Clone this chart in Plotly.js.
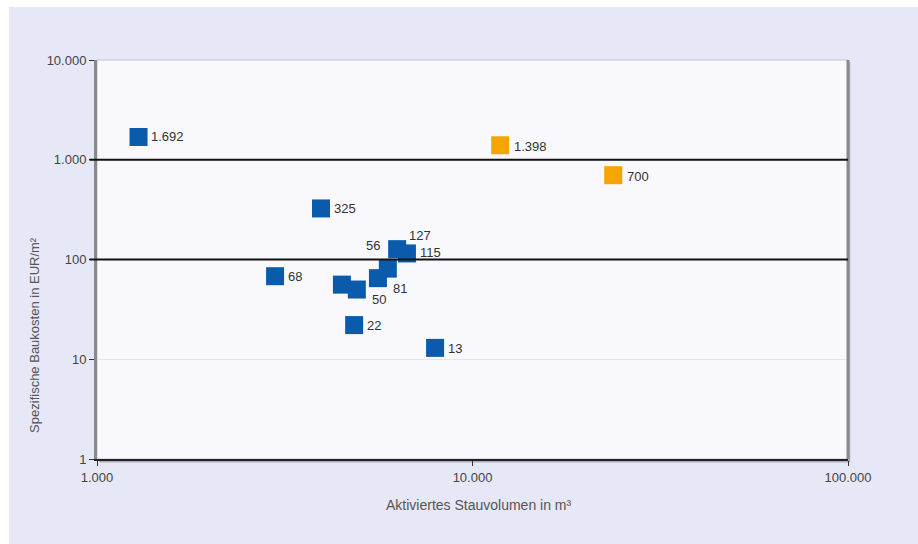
<!DOCTYPE html>
<html><head><meta charset="utf-8">
<script src="https://cdn.plot.ly/plotly-3.0.1.min.js"></script>
<style>html,body{margin:0;padding:0;background:#fff;}</style>
</head><body><div id="chart" style="width:918px;height:544px;"></div>
<script>
// Blue series (Aktiviertes Stauvolumen m³, spezifische Baukosten EUR/m²)
const blueX = [1290, 3950, 2980, 4490, 4920, 5600, 5950, 6300, 6690, 4840, 7950];
const blueY = [1692, 325, 68, 56, 50, 65, 81, 127, 115, 22, 13];
const blueLabels = ["1.692", "325", "68", "56", "50", "", "81", "127", "115", "22", "13"];
// Orange series
const orangeX = [11850, 23700];
const orangeY = [1398, 700];
const orangeLabels = ["1.398", "700"];
// Axis ticks
const xTickVals = [1000, 10000, 100000];
const xTickText = ["1.000", "10.000", "100.000"];
const yTickVals = [1, 10, 100, 1000, 10000];
const yTickText = ["1", "10", "100", "1.000", "10.000"];
const majorLines = [100, 1000];

// label offsets (style only): [xshift, yshift]
const blueShift = [[10,0],[11,0],[11,0],[22,39],[13,-10],[0,0],[3,-20],[10,14],[11,1],[11,0],[11,-1]];
const orangeShift = [[12,-1],[12,-1]];

const FONT = 'Liberation Sans, Arial, sans-serif';
const annotations = [];
function addLabels(xs, ys, ts, sh) {
  for (let i = 0; i < xs.length; i++) {
    if (!ts[i]) continue;
    annotations.push({x: Math.log10(xs[i]), y: Math.log10(ys[i]), xref: 'x', yref: 'y', text: ts[i],
      showarrow: false, xanchor: 'left', yanchor: 'middle', xshift: sh[i][0], yshift: sh[i][1],
      font: {family: FONT, size: 13, color: '#333'}});
  }
}
addLabels(blueX, blueY, blueLabels, blueShift);
addLabels(orangeX, orangeY, orangeLabels, orangeShift);
annotations.push({xref: 'paper', yref: 'paper', x: -0.0826, y: 0.311, text: 'Spezifische Baukosten in EUR/m²',
  textangle: -90, showarrow: false, xanchor: 'center', yanchor: 'middle',
  font: {family: FONT, size: 13, color: '#555'}});
annotations.push({xref: 'paper', yref: 'paper', x: 0.508, y: -0.115, text: 'Aktiviertes Stauvolumen in m³',
  showarrow: false, xanchor: 'center', yanchor: 'middle',
  font: {family: FONT, size: 14, color: '#555'}});

const shapes = [
  // lavender panel (white strip on top and left)
  {type: 'rect', xref: 'paper', yref: 'paper', x0: -0.1172, x1: 1.2, y0: -0.3, y1: 1.1328, fillcolor: '#e6e8f8', line: {width: 0}, layer: 'below'},
  // plot shadow
  {type: 'rect', xref: 'paper', yref: 'paper', x0: 0.003, x1: 1.003, y0: -0.009, y1: 0.995, fillcolor: '#aeaeba', line: {width: 0}, layer: 'below'},
  {type: 'rect', xref: 'paper', yref: 'paper', x0: 0, x1: 1, y0: 0, y1: 1, fillcolor: '#f8f8fd', line: {color: '#c4c4cc', width: 1}, layer: 'below'},
  // right frame edge
  {type: 'line', xref: 'paper', yref: 'paper', x0: 1, x1: 1, y0: 0, y1: 1, line: {color: '#8a8a8e', width: 3}}
];
majorLines.forEach(v => shapes.push({type: 'line', xref: 'paper', yref: 'y', x0: -0.01, x1: 1, y0: v, y1: v, line: {color: '#111', width: 2}}));

const data = [
  {type: 'scatter', mode: 'markers', x: blueX, y: blueY,
   marker: {symbol: 'square', size: 18, color: '#0a5bab', line: {width: 0}}, hoverinfo: 'x+y'},
  {type: 'scatter', mode: 'markers', x: orangeX, y: orangeY,
   marker: {symbol: 'square', size: 18, color: '#f5a500', line: {width: 0}}, hoverinfo: 'x+y'}
];

const layout = {
  width: 918, height: 544,
  margin: {l: 97, r: 70, t: 60, b: 85},
  paper_bgcolor: '#ffffff', plot_bgcolor: 'rgba(0,0,0,0)',
  showlegend: false,
  font: {family: FONT, size: 13, color: '#444'},
  xaxis: {type: 'log', range: [3, 5], tickvals: xTickVals, ticktext: xTickText,
    showgrid: false, zeroline: false, showline: true, linecolor: '#222', linewidth: 2,
    ticks: 'outside', ticklen: 5, tickcolor: '#333',
    tickfont: {size: 13, color: '#444'}},
  yaxis: {type: 'log', range: [0, 4], tickvals: yTickVals, ticktext: yTickText,
    showgrid: true, gridcolor: '#e4e6ee', gridwidth: 1, zeroline: false,
    showline: true, linecolor: '#8a8a8e', linewidth: 3,
    ticks: 'outside', ticklen: 5, tickcolor: '#333',
    tickfont: {size: 13, color: '#444'}},
  shapes: shapes,
  annotations: annotations
};

Plotly.newPlot('chart', data, layout, {displayModeBar: false, staticPlot: true});
</script></body></html>
